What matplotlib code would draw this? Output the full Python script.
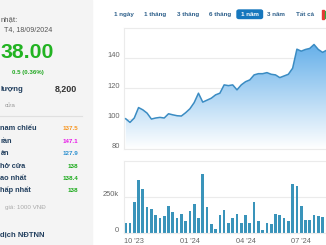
import numpy as np
import pandas as pd
import matplotlib
matplotlib.use("Agg")
import matplotlib.pyplot as plt
import matplotlib.dates as mdates
import matplotlib.transforms as mtransforms
from matplotlib.colors import LinearSegmentedColormap
from matplotlib.patches import Rectangle, FancyBboxPatch

plt.rcParams['font.family'] = ['Liberation Sans', 'DejaVu Sans']

# weekly closing price (thousand VND) and weekly volume
start_date = "2023-09-18"
prices = [100, 97.6, 100.5, 107.4, 105.9, 103.7, 99.8, 100.5, 100.9, 100.5,
          103.3, 102.6, 102, 101.8, 104, 106.6, 110.7, 116.9, 111, 112.3,
          113.6, 115.8, 116.9, 122.4, 121.9, 122.4, 119.1, 122.4, 124.5, 125.7,
          129, 129.8, 129.8, 130.5, 129.4, 129, 127.2, 128.3, 129.4, 133.4,
          146, 144.7, 145.8, 146.5, 149.1, 145.8, 143.9, 145.4]
volumes_k = [65, 65, 213, 363, 306, 181, 164, 120, 100, 116,
             188, 141, 100, 130, 81, 148, 197, 100, 405, 181,
             60, 28, 120, 157, 69, 104, 127, 65, 123, 69,
             211, 83, 19, 67, 60, 127, 120, 100, 83, 336,
             327, 185, 88, 88, 123, 116, 109]
price_ticks = [80, 100, 120, 140]
vol_ticks = [0, 250]
vol_tick_labels = ["0", "250k"]
month_ticks = ["2023-10-01", "2024-01-01", "2024-04-01", "2024-07-01"]
month_labels = ["10 '23", "01 '24", "04 '24", "07 '24"]

range_buttons = ["1 ngày", "1 tháng", "3 tháng", "6 tháng", "1 năm", "3 năm", "Tất cả"]
button_x = [123.5, 155, 188, 220, 249.5, 275.5, 305.5]

# the info panel is cropped at the left edge of the screenshot
info_labels = ["nam chiếu", "rần", "àn", "hở cửa", "ao nhất", "hấp nhất"]
info_values = ["137.5", "147.1", "127.9", "138", "138.4", "138"]
info_colors = ["#f7941d", "#e815e8", "#2a8fcf", "#16a816", "#16a816", "#16a816"]

W, H = 326, 245
fig = plt.figure(figsize=(W / 100, H / 100), dpi=100)


def box(x0, y0, x1, y1):
    return [x0 / W, 1 - y1 / H, (x1 - x0) / W, (y1 - y0) / H]


def ftext(x, y, s, **kw):
    kw.setdefault('va', 'center')
    fig.text(x / W, 1 - y / H, s, **kw)


# left info panel
fig.patches.append(Rectangle((0, 0), 92 / W, 1, transform=fig.transFigure,
                             color="#f4f4f4", zorder=0))
fig.lines.append(plt.Line2D([0, 82 / W], [1 - 116 / H, 1 - 116 / H],
                            transform=fig.transFigure, color="#e0e0e0", lw=0.8))
navy = "#23405f"
ftext(0.5, 19.5, "nhật:", ha='left', fontsize=5.6, color="#555555")
ftext(4, 29.5, "T4, 18/09/2024", ha='left', fontsize=5.1, color="#555555")
ftext(0.5, 52.5, "38.00", ha='left', fontsize=15.3, fontweight='bold', color="#22b322")
ftext(12, 72.5, "0.5 (0.36%)", ha='left', fontsize=4.4, fontweight='bold', color="#22a822")
ftext(0.5, 89, "lượng", ha='left', fontsize=5.6, fontweight='bold', color=navy)
ftext(77, 89, "8,200", ha='right', fontsize=6.4, fontweight='bold', color="#333333")
ftext(5, 105, "cửa", ha='left', fontsize=4.6, color="#999999")
row_y = [129, 141.5, 153.5, 166, 178.5, 190.5]
for lab, val, col, yy in zip(info_labels, info_values, info_colors, row_y):
    ftext(0.5, yy, lab, ha='left', fontsize=5.3, fontweight='bold', color=navy)
    ftext(78, yy, val, ha='right', fontsize=4.5, fontweight='bold', color=col)
ftext(5, 207.5, "giá: 1000 VNĐ", ha='left', fontsize=4.5, color="#aaaaaa")
ftext(0.5, 235, "dịch NĐTNN", ha='left', fontsize=5.5, fontweight='bold', color=navy)

# range selector
fig.patches.append(FancyBboxPatch((237 / W, 1 - 18.5 / H), 25.5 / W, 8.5 / H,
                                  boxstyle="round,pad=0,rounding_size=0.006",
                                  transform=fig.transFigure, color="#1677bd"))
for lab, bx in zip(range_buttons, button_x):
    sel = lab == "1 năm"
    ftext(bx, 14.5, lab, ha='center', fontsize=4.5, fontweight='bold',
          color="white" if sel else "#2d5f8a")
fig.patches.append(Rectangle((322 / W, 1 - 19 / H), 1.6 / W, 9 / H,
                             transform=fig.transFigure, color="#e53935"))
fig.patches.append(Rectangle((324.6 / W, 1 - 18 / H), 1.6 / W, 7 / H,
                             transform=fig.transFigure, color="#2eaa3a"))

# dates
dates = pd.date_range(start_date, periods=len(prices), freq="7D")
xd = mdates.date2num(dates)
x0 = xd[0] - 2.8
x1 = xd[0] + 350.5
grid_c = "#ebebeb"
tick_off = mtransforms.ScaledTranslation(0, 0.035, fig.dpi_scale_trans)

# price panel
ax = fig.add_axes(box(124, 28, 340, 149))
ax.set_xlim(x0, x1)
ax.set_ylim(80, 160)
grad = np.linspace(1, 0, 256).reshape(-1, 1)
cmap = LinearSegmentedColormap.from_list("fill", ["#ffffff", "#4da3e6"])
im = ax.imshow(grad, extent=[x0, x1, 80, 160], aspect='auto', cmap=cmap,
               vmin=0, vmax=1, origin='upper', zorder=1)
poly = ax.fill_between(xd, prices, 80, color='none')
im.set_clip_path(poly.get_paths()[0], transform=ax.transData)
ax.plot(xd, prices, color="#3b8cc3", lw=1.1, zorder=3)
ax.set_yticks(price_ticks)
ax.set_yticklabels([str(t) for t in price_ticks])
ax.set_xticks([])
ax.grid(axis='y', color=grid_c, lw=0.8)
ax.set_axisbelow(True)
ax.tick_params(axis='y', length=0, pad=3, labelsize=5.4, labelcolor="#666666")
for lbl in ax.get_yticklabels():
    lbl.set_transform(lbl.get_transform() + tick_off)
ax.spines['right'].set_visible(False)
for side in ['left', 'top', 'bottom']:
    ax.spines[side].set_color(grid_c)
    ax.spines[side].set_linewidth(0.8)

# volume panel
av = fig.add_axes(box(124, 160.7, 340, 232.7))
av.set_xlim(x0, x1)
av.set_ylim(0, 500)
av.bar(xd[:len(volumes_k)], volumes_k, width=4.4, color="#3a94ba", zorder=2)
av.set_yticks(vol_ticks)
av.set_yticklabels(vol_tick_labels)
av.set_xticks(mdates.date2num(pd.to_datetime(month_ticks)))
av.set_xticklabels(month_labels)
av.grid(axis='y', color=grid_c, lw=0.8)
av.set_axisbelow(True)
av.tick_params(axis='y', length=0, pad=4, labelsize=5.4, labelcolor="#666666")
av.tick_params(axis='x', length=0, pad=3.5, labelsize=5.3, labelcolor="#666666")
for lbl in av.get_yticklabels():
    lbl.set_transform(lbl.get_transform() + tick_off)
av.spines['right'].set_visible(False)
for side in ['left', 'top', 'bottom']:
    av.spines[side].set_color(grid_c)
    av.spines[side].set_linewidth(0.8)

fig.savefig("out.png", dpi=100)
